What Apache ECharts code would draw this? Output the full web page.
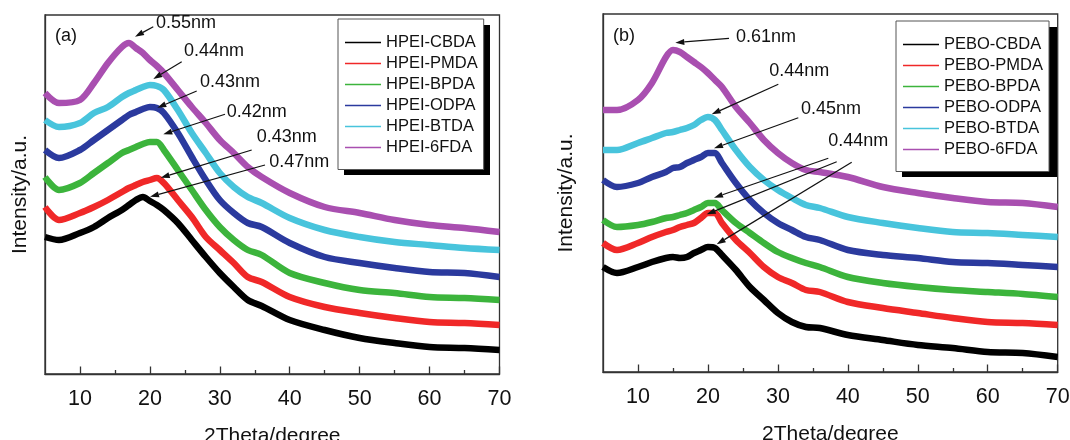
<!DOCTYPE html>
<html>
<head>
<meta charset="utf-8">
<script src="https://cdn.jsdelivr.net/npm/echarts@6/dist/echarts.min.js"></script>
<style>html,body{margin:0;padding:0;background:#fff}#c{width:1070px;height:440px}</style>
</head>
<body>
<div id="c"></div>
<script>
// ---- tick labels ----
const xTicks = [10, 20, 30, 40, 50, 60, 70];
const xMinorTicks = [15, 25, 35, 45, 55, 65];

// ---- panel (a) ----
const namesA = ['HPEI-CBDA', 'HPEI-PMDA', 'HPEI-BPDA', 'HPEI-ODPA', 'HPEI-BTDA', 'HPEI-6FDA'];
const xA = [5, 7, 10, 12, 14, 16, 17, 18, 19, 20, 21, 22, 24, 26, 28, 30, 32, 34, 36, 40, 45, 50, 55, 60, 65, 70];
const cbdaA = [137, 134, 141, 147, 156, 164, 169, 174, 177, 173, 169, 164, 151, 134, 117, 101, 87, 74, 68, 54, 44, 36, 31, 27, 26, 24];
const pmdaA = [167, 154, 161, 167, 174, 182, 186, 189, 192, 194, 196, 191, 174, 157, 137, 124, 111, 97, 92, 77, 67, 61, 56, 52, 51, 49];
const bpdaA = [197, 184, 191, 201, 211, 221, 224, 227, 230, 232, 232, 224, 204, 184, 164, 147, 134, 124, 119, 101, 91, 84, 81, 77, 76, 74];
const odpaA = [224, 216, 224, 234, 244, 254, 259, 262, 265, 267, 266, 261, 241, 217, 194, 174, 161, 151, 147, 131, 117, 111, 106, 102, 101, 97];
const btdaA = [254, 247, 251, 261, 267, 277, 281, 284, 287, 289, 288, 284, 264, 241, 221, 201, 187, 177, 171, 156, 144, 137, 132, 129, 126, 124];
const fdaA = [281, 271, 274, 291, 311, 327, 331, 326, 321, 314, 308, 301, 284, 267, 251, 234, 221, 207, 197, 181, 167, 161, 154, 149, 146, 142];

// ---- panel (b) ----
const namesB = ['PEBO-CBDA', 'PEBO-PMDA', 'PEBO-BPDA', 'PEBO-ODPA', 'PEBO-BTDA', 'PEBO-6FDA'];
const xB = [5, 7, 10, 12, 14, 15, 16, 17, 18, 19, 20, 21, 22, 24, 26, 28, 30, 32, 34, 36, 40, 45, 50, 55, 60, 65, 70];
const cbdaB = [105, 99, 105, 110, 114, 115, 114, 115, 119, 122, 125, 124, 117, 102, 85, 72, 59, 50, 45, 44, 37, 32, 27, 24, 20, 19, 15];
const pmdaB = [129, 122, 129, 135, 140, 142, 145, 147, 149, 154, 159, 159, 149, 132, 119, 105, 95, 89, 82, 80, 70, 64, 59, 54, 50, 49, 47];
const bpdaB = [152, 145, 147, 150, 154, 155, 157, 159, 162, 165, 169, 169, 162, 149, 139, 129, 120, 114, 109, 105, 95, 89, 85, 82, 80, 78, 75];
const odpaB = [192, 185, 189, 195, 200, 204, 205, 209, 212, 215, 219, 219, 209, 189, 172, 159, 149, 142, 135, 132, 122, 117, 114, 110, 109, 107, 105];
const btdaB = [222, 222, 229, 234, 239, 240, 242, 244, 247, 252, 255, 252, 242, 222, 205, 192, 182, 174, 167, 164, 155, 149, 144, 140, 139, 137, 135];
const fdaB = [262, 262, 272, 289, 315, 322, 320, 315, 310, 305, 299, 292, 285, 265, 249, 232, 219, 209, 202, 200, 195, 185, 179, 174, 170, 169, 165];

// ---- annotation labels ----
const peakLabelsA = ['0.55nm', '0.44nm', '0.43nm', '0.42nm', '0.43nm', '0.47nm'];
const peakLabelsB = ['0.61nm', '0.44nm', '0.45nm', '0.44nm'];

const colors = ['#000000', '#f02828', '#3cb43c', '#2b3a9e', '#48c4dc', '#a94fb0'];
const FONT = '"Liberation Sans", Arial, sans-serif';

function pairs(xs, ys) { return xs.map((x, i) => [x, ys[i]]); }

function makeSeries(names, xs, ys, xIdx, yIdx) {
  return names.map((n, i) => ({
    name: n, type: 'line', xAxisIndex: xIdx, yAxisIndex: yIdx,
    data: pairs(xs, ys[i]), showSymbol: false, symbol: 'none', smooth: 0.3,
    lineStyle: { color: colors[i], width: 6.5 }, itemStyle: { color: colors[i] },
    silent: true, animation: false
  }));
}

// annotation layout (pixel placement of callouts)
const textPosA = [[156, 23], [184, 51.3], [200, 82], [226.7, 112.2], [256.7, 137.5], [269.3, 162.2]];
const arrowPosA = [[153.3, 26.7, 135, 36.7], [181.7, 61.7, 153.3, 79], [196.7, 91, 157.3, 107.7], [225, 114.3, 163.3, 134.3], [251.7, 150, 160.7, 177.7], [265, 165, 150, 196.7]];
const textPosB = [[736, 36.7], [769.3, 71.3], [801, 109], [828.3, 141.3]];
const arrowPosB = [[729, 38.3, 675.3, 42.7], [778.3, 84.3, 711.7, 114.3], [798.3, 117.7, 714, 148.3], [828.3, 158.3, 714, 197.7], [836.7, 161.7, 706.7, 214.3], [851.7, 162.3, 716.7, 244.3]];

function arrow(p) {
  const [x1, y1, x2, y2] = p;
  const a = Math.atan2(y2 - y1, x2 - x1), L = 9, W = 3;
  const bx = x2 - L * Math.cos(a), by = y2 - L * Math.sin(a);
  const px = -Math.sin(a) * W, py = Math.cos(a) * W;
  return [
    { type: 'line', silent: true, z: 100, shape: { x1: x1, y1: y1, x2: bx, y2: by }, style: { stroke: '#111', lineWidth: 1.2 } },
    { type: 'polygon', silent: true, z: 100, shape: { points: [[x2, y2], [bx + px, by + py], [bx - px, by - py]] }, style: { fill: '#111' } }
  ];
}
function label(t, pos, size) {
  return { type: 'text', silent: true, z: 100, x: pos[0], y: pos[1],
    style: { text: t, font: size + 'px ' + FONT, fill: '#111', textVerticalAlign: 'middle', verticalAlign: 'middle' } };
}

let graphics = [];
peakLabelsA.forEach((t, i) => graphics.push(label(t, textPosA[i], 18)));
arrowPosA.forEach(p => graphics = graphics.concat(arrow(p)));
peakLabelsB.forEach((t, i) => graphics.push(label(t, textPosB[i], 18)));
arrowPosB.forEach(p => graphics = graphics.concat(arrow(p)));
graphics.push(label('(a)', [55, 36.5], 18));
graphics.push(label('(b)', [613, 36.5], 18));
// hard drop shadows behind the two legend boxes
graphics.push({ type: 'rect', silent: true, z: 1, shape: { x: 344, y: 25, width: 146, height: 150 }, style: { fill: '#000' } });
graphics.push({ type: 'rect', silent: true, z: 1, shape: { x: 902, y: 27, width: 155, height: 150 }, style: { fill: '#000' } });

const axisColor = '#333';
function mainX(grid) {
  return {
    gridIndex: grid, type: 'value', min: 5, max: 70,
    axisLine: { show: true, lineStyle: { color: axisColor, width: 1.3 } },
    axisTick: { show: true, inside: true, length: 7.5, customValues: xTicks, lineStyle: { color: axisColor, width: 1.3 } },
    axisLabel: { customValues: xTicks, fontSize: 21.5, margin: 14, color: '#111', fontFamily: FONT },
    splitLine: { show: false },
    name: '2Theta/degree', nameLocation: 'middle', nameGap: 52,
    nameTextStyle: { fontSize: 21, color: '#111', fontFamily: FONT }
  };
}
function minorX(grid) {
  return {
    gridIndex: grid, type: 'value', min: 5, max: 70, position: 'bottom',
    axisLine: { show: false },
    axisTick: { show: true, inside: true, length: 4, customValues: xMinorTicks, lineStyle: { color: axisColor, width: 1.3 } },
    axisLabel: { show: false }, splitLine: { show: false }
  };
}
function yAx(grid, max, gap) {
  return {
    gridIndex: grid, type: 'value', min: 0, max: max,
    axisLine: { show: true, lineStyle: { color: axisColor, width: 1.3 } },
    axisTick: { show: false }, axisLabel: { show: false }, splitLine: { show: false },
    name: 'Intensity/a.u.', nameLocation: 'middle', nameGap: gap,
    nameTextStyle: { fontSize: 21, color: '#111', fontFamily: FONT }
  };
}
function legendCfg(names, left, top) {
  return {
    data: names, left: left, top: top, orient: 'vertical', icon: 'rect', z: 5,
    itemWidth: 36, itemHeight: 1.5, itemGap: 0, padding: [13, 6, 11.5, 7],
    backgroundColor: '#fff', borderColor: '#555', borderWidth: 1, borderRadius: 0,
    selectedMode: false,
    textStyle: { fontSize: 16.5, lineHeight: 21, color: '#111', fontFamily: FONT }
  };
}

const chart = echarts.init(document.getElementById('c'), null, { renderer: 'canvas' });
chart.setOption({
  animation: false,
  backgroundColor: '#fff',
  grid: [
    { left: 45, right: 570.5, top: 15, bottom: 66, outerBoundsMode: 'none', containLabel: false, show: true, borderColor: axisColor, borderWidth: 1.3, backgroundColor: 'transparent' },
    { left: 603, right: 12.3, top: 14, bottom: 68, outerBoundsMode: 'none', containLabel: false, show: true, borderColor: axisColor, borderWidth: 1.3, backgroundColor: 'transparent' }
  ],
  xAxis: [mainX(0), minorX(0), mainX(1), minorX(1)],
  yAxis: [yAx(0, 359, 14), yAx(1, 358, 26)],
  legend: [legendCfg(namesA, 338, 19), legendCfg(namesB, 896, 21)],
  series: [].concat(
    makeSeries(namesA, xA, [cbdaA, pmdaA, bpdaA, odpaA, btdaA, fdaA], 0, 0),
    makeSeries(namesB, xB, [cbdaB, pmdaB, bpdaB, odpaB, btdaB, fdaB], 2, 1)
  ),
  graphic: graphics
});
</script>
</body>
</html>
